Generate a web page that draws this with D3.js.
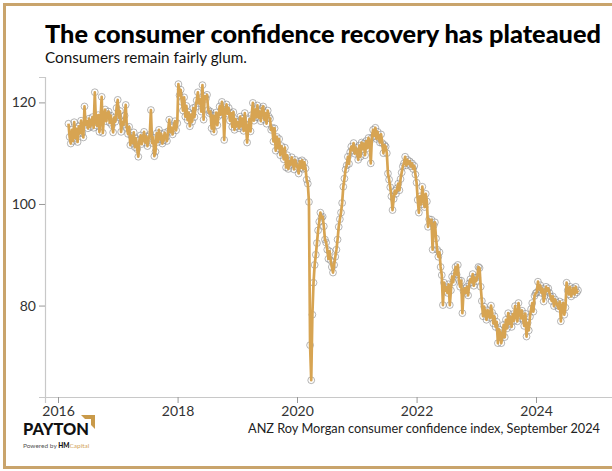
<!DOCTYPE html>
<html><head><meta charset="utf-8">
<script src="https://cdn.jsdelivr.net/npm/d3@7"></script>
<style>html,body{margin:0;padding:0;background:#fff;overflow:hidden}</style>
</head><body>
<svg id="chart" width="612" height="471"></svg>
<script>
// ---- DATA (weekly ANZ Roy Morgan consumer confidence) ----
const startDate = "2016-03-05";
const values2016 = [115.8,113.2,111.9,114.6, 112.4,116.1,113.0,114.8,112.2, 115.3,113.9,116.4,114.0, 113.1,119.2,115.6,116.3,
  114.9,116.8,115.2,116.0,117.1, 115.0,122.0,116.2,115.4, 117.5,114.2,116.9,121.1, 114.0,117.2,118.6,116.3,117.7,
  118.2,116.0,117.4,115.5, 114.1,117.0,116.2,118.9,120.5];
const values2017 = [117.0,118.3,114.2,116.1, 115.6,117.4,119.5,115.0, 113.8,115.2,111.6,113.4, 112.0,114.1,111.2,112.9,110.8,
  109.3,112.6,113.5,111.8, 112.9,114.2,112.1,113.3, 111.4,112.8,113.6,118.5,112.0, 113.1,109.4,110.3,113.9,
  112.2,114.6,112.7,113.8,111.9, 112.5,114.0,113.1,112.4, 114.3,116.6,114.2,115.0, 113.7,115.4,116.3,114.5,115.9];
const values2018 = [123.6,121.4,122.5,120.1, 118.4,121.0,117.2,119.3, 116.5,118.0,115.3,117.6,116.2, 118.9,117.1,119.1,120.4,
  122.0,119.8,120.6,118.2, 123.4,116.6,121.2,120.7,121.5, 118.5,117.9,118.2,114.9, 117.4,114.2,116.8,118.0,
  115.5,117.3,119.2,117.6,120.1, 118.7,112.6,118.5,119.6, 117.8,118.9,116.4,117.9, 115.2,118.1,114.6,116.7,115.3];
const values2019 = [116.1,114.9,117.2,115.3, 116.8,114.4,117.9,115.6, 112.1,115.0,116.7,114.3,117.5, 119.9,116.4,118.6,117.1,
  119.4,117.0,118.2,116.3, 118.8,119.2,116.6,117.9,115.8, 118.4,117.2,116.8,114.6, 115.0,112.3,114.9,110.5,113.2,
  111.0,112.8,109.6,111.4, 110.3,108.8,111.1,107.2, 109.6,106.9,108.4,107.7,109.2, 108.1,106.8,108.7,107.9];
const values2020 = [107.3,106.0,108.4,107.1, 108.6,106.9,108.2,107.0,104.8, 104.0,100.4,72.2,65.3, 78.2,84.5,88.0,90.0,
  92.3,94.8,96.5,98.3,97.3, 97.5,95.6,93.0,92.4, 91.0,89.2,90.7,88.9, 87.6,86.5,88.0,89.6,91.0,
  93.0,95.5,97.0,98.3, 100.2,103.4,105.0,106.8,107.6, 109.3,107.9,110.2,111.3, 110.6,112.0,109.9,111.1];
const values2021 = [110.2,108.7,111.5,109.3,112.1, 110.8,111.9,109.6,112.4, 111.0,113.0,112.2,108.0, 113.1,114.6,113.4,115.0,
  112.8,114.2,113.0,112.1,113.7, 112.0,110.0,111.6,111.3, 110.0,106.0,104.8,103.3,101.5, 98.8,101.0,102.6,102.0,
  103.1,104.0,102.7,104.9, 106.2,107.4,108.0,109.3,107.6, 108.7,107.9,108.4,107.4, 108.0,106.9,107.5,105.8];
const values2022 = [104.2,100.8,98.3,101.5,99.9, 103.4,101.2,99.4,102.0, 100.5,95.5,97.0,96.3, 96.9,91.0,95.8,96.4,93.2,
  91.0,89.6,90.5,87.6, 86.0,80.1,84.5,82.9, 83.6,82.5,84.2,80.1,83.0, 85.7,84.6,86.3,87.6,
  86.1,88.0,85.0,83.7, 84.9,78.5,82.8,83.4,82.5, 83.7,82.0,84.4,85.2, 84.6,86.2,83.9,85.5,84.8];
const values2023 = [85.6,87.6,87.4,83.7, 80.9,77.9,79.8,78.4, 77.2,79.1,78.0,77.6, 80.0,78.6,76.5,77.9,75.8,
  76.8,72.6,75.3,74.6, 72.6,74.1,76.2,73.8, 77.2,75.5,78.5,76.4,77.8, 75.8,78.3,77.0,79.9,
  78.1,76.9,80.5,78.7,77.5, 79.0,77.2,76.0,78.4, 73.9,76.6,75.1,77.8, 79.3,80.5,78.8,81.9,82.4];
const values2024 = [82.6,84.7,83.2,84.0, 82.5,83.3,80.8,82.0, 83.7,82.9,83.4,82.5,81.8, 80.9,81.8,79.9,81.2,
  80.6,80.0,79.4,80.8, 76.9,79.9,80.5,78.2,79.6, 84.5,83.0,82.2,83.7, 81.8,82.9,83.4,82.2,83.7, 82.6,83.0];

const yTickValues = [80, 100, 120];
const xTickYears = [2016, 2018, 2020, 2022, 2024];
const titleText = "The consumer confidence recovery has plateaued";
const subtitleText = "Consumers remain fairly glum.";
const sourceText = "ANZ Roy Morgan consumer confidence index, September 2024";

// ---- BUILD ----
const allValues = [].concat(values2016, values2017, values2018, values2019, values2020,
  values2021, values2022, values2023, values2024);
const t0 = d3.timeParse("%Y-%m-%d")(startDate);
const data = allValues.map((v, i) => ({date: d3.timeDay.offset(t0, 7 * i), value: v}));

const gold = "#d7a452";
const border = "#c9a46c";
const svg = d3.select("#chart");

// border frame
svg.append("rect").attr("x", 4.5).attr("y", 4.5).attr("width", 660).attr("height", 463)
  .attr("fill", "none").attr("stroke", border).attr("stroke-width", 3);

// scales
const x0 = d3.scaleTime().domain([new Date(2016, 0, 1), new Date(2024, 0, 1)]).range([58, 536]);
const x = d3.scaleTime().domain([x0.invert(45), x0.invert(700)]).range([45, 700]);
const y = d3.scaleLinear().domain([62, 125]).range([397, 77]);

// axes
const font = "Lato, 'Open Sans', sans-serif";
const yAxis = svg.append("g").attr("transform", "translate(45,0)")
  .call(d3.axisLeft(y).tickValues(yTickValues).tickSize(6).tickPadding(3));
const xAxis = svg.append("g").attr("transform", "translate(0,397)")
  .call(d3.axisBottom(x).tickValues(xTickYears.map(yr => new Date(yr, 0, 1)))
    .tickFormat(d3.timeFormat("%Y")).tickSize(6).tickPadding(3));
[yAxis, xAxis].forEach(g => {
  g.select(".domain").attr("stroke", "#c8c8c8").attr("stroke-width", 1.2);
  g.selectAll(".tick line").attr("stroke", "#999");
  g.selectAll(".tick text").attr("fill", "#333").style("font-family", font).style("font-size", "14px");
});

// markers + line
svg.append("g").selectAll("circle").data(data).join("circle")
  .attr("cx", d => x(d.date)).attr("cy", d => y(d.value)).attr("r", 3.4)
  .attr("fill", "none").attr("stroke", "#8c8c8c").attr("stroke-width", 0.65);
svg.append("path").datum(data)
  .attr("d", d3.line().x(d => x(d.date)).y(d => y(d.value)))
  .attr("fill", "none").attr("stroke", gold).attr("stroke-width", 2.7)
  .attr("stroke-linejoin", "round");

// text helper: size font so the natural width matches the target width
function fitText(sel, target, base) {
  sel.style("font-size", base + "px");
  const w = sel.node().getComputedTextLength();
  if (w > 0) sel.style("font-size", (base * target / w).toFixed(2) + "px");
  return sel;
}

// titles
fitText(svg.append("text").attr("x", 45).attr("y", 43).text(titleText)
  .style("font-family", "Lato, sans-serif").style("font-weight", 900).attr("fill", "#000"), 556, 21);
fitText(svg.append("text").attr("x", 45).attr("y", 63).text(subtitleText)
  .style("font-family", font).attr("fill", "#111"), 202, 16);
fitText(svg.append("text").attr("x", 600).attr("y", 433).attr("text-anchor", "end").text(sourceText)
  .style("font-family", font).attr("fill", "#222"), 352, 14);

// logo
fitText(svg.append("text").attr("x", 23).attr("y", 435).text("PAYTON")
  .style("font-family", "Lato, sans-serif").style("font-weight", 900).attr("fill", "#111"), 66, 17);
svg.append("path").attr("d", "M81,415 L95,415 L95,429 L91,425 L91,419 L85,419 Z").attr("fill", "#c99a4a");
const pw = svg.append("text").attr("x", 23).attr("y", 448)
  .style("font-family", "Lato, sans-serif").style("font-size", "6.5px");
pw.append("tspan").attr("fill", "#555").text("Powered by ");
pw.append("tspan").attr("fill", "#111").style("font-weight", 900).text("HM");
pw.append("tspan").attr("fill", "#d2a45a").text("Capital");
</script>
</body></html>
